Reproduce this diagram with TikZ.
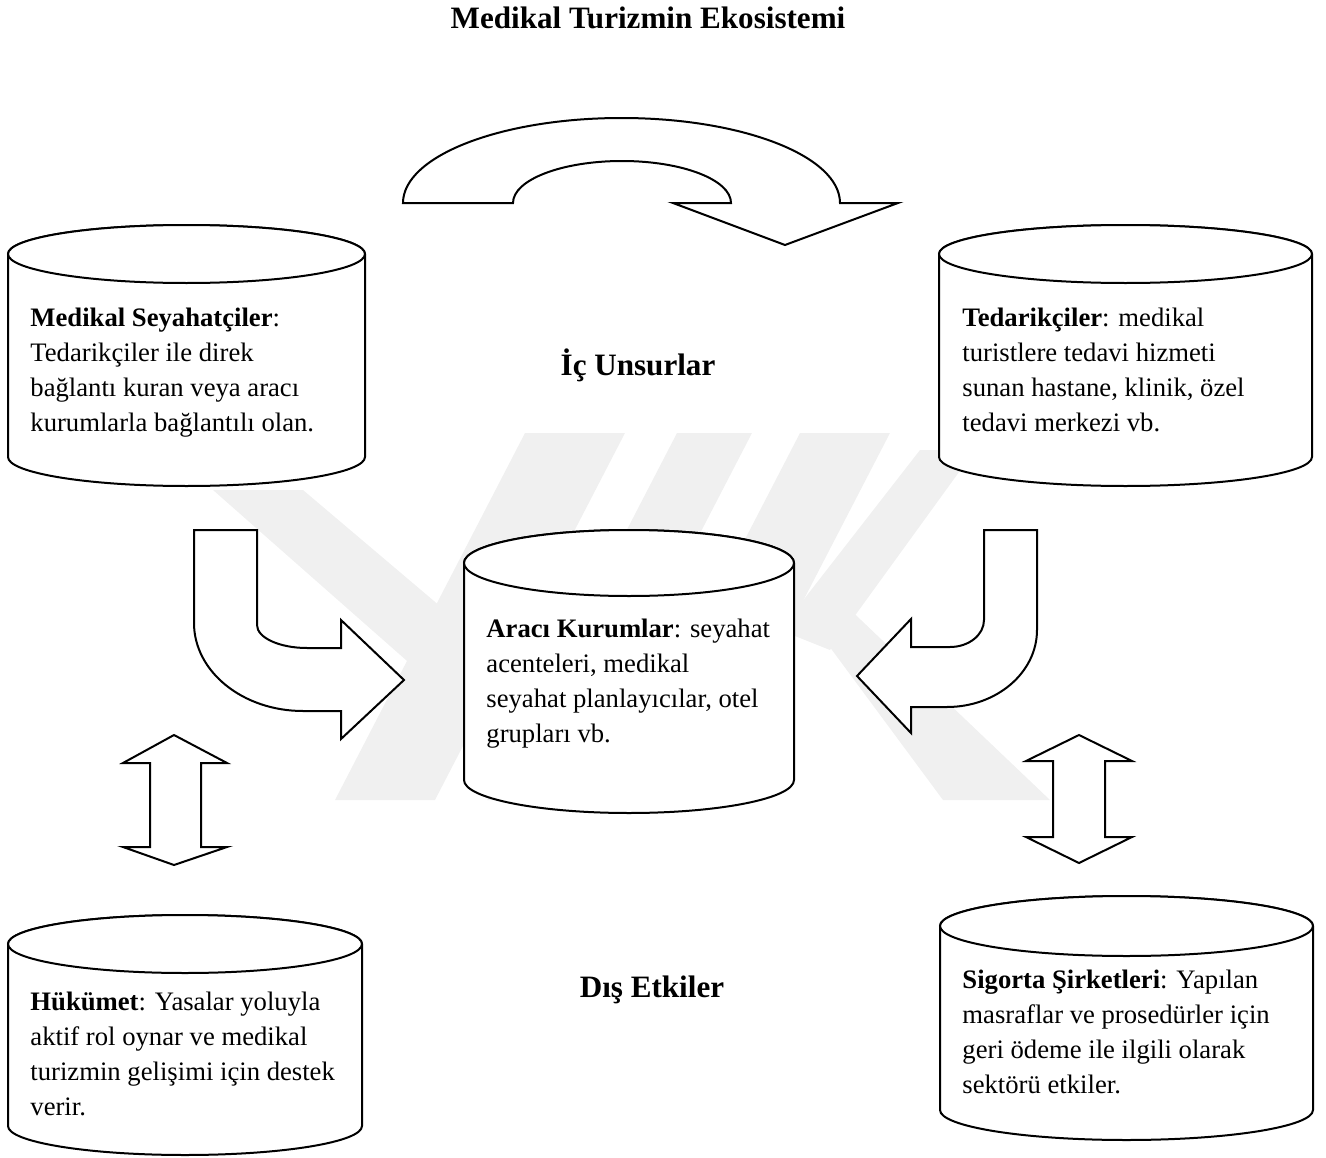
\documentclass[tikz,border=0pt]{standalone}
\usepackage{fontspec}
\setmainfont{Liberation Serif}
\begin{document}
\begin{tikzpicture}[x=0.45pt,y=0.45pt,
  shp/.style={draw=black,line width=0.9pt,fill=white,line join=miter},
  wm/.style={fill=black!6,draw=none},
  txt/.style={font=\fontsize{12}{15.75}\selectfont,align=left,inner sep=0pt},
  hdr/.style={font=\bfseries\fontsize{14}{16}\selectfont,inner sep=0pt}]
\useasboundingbox (0,0) rectangle (1326,-1158);
% watermark (faint)
\fill[wm] (525,-433) -- (625,-433) -- (435,-800) -- (335,-800) -- cycle;
\fill[wm] (213,-490) -- (303,-490) -- (480,-640) -- (440,-690) -- cycle;
\fill[wm] (677,-433) -- (752,-433) -- (562,-800) -- (487,-800) -- cycle;
\fill[wm] (800,-433) -- (890,-433) -- (700,-800) -- (610,-800) -- cycle;
\fill[wm] (920,-450) -- (975,-450) -- (830,-650) -- (780,-630) -- cycle;
\fill[wm] (795,-600) -- (840,-600) -- (1050,-800) -- (943,-800) -- cycle;
% cylinders
\newcommand{\cylshape}[5]{% x1 x2 yc yb ry (pixel, y down)
  \pgfmathsetmacro{\rxx}{(#2-#1)/2}
  \pgfmathsetmacro{\cxx}{(#2+#1)/2}
  \draw[shp] (#1,-#3) -- (#1,-#4) arc[start angle=180,end angle=360,x radius=\rxx,y radius=#5]
    -- (#2,-#3) arc[start angle=0,end angle=180,x radius=\rxx,y radius=#5] -- cycle;
  \draw[shp] (\cxx,-#3) ellipse[x radius=\rxx,y radius=#5];
}
\cylshape{8}{365}{254}{457}{29}
\cylshape{939}{1312}{254}{457}{29}
\cylshape{464}{794}{563}{780}{33}
\cylshape{8}{362}{944}{1126}{29}
\cylshape{940}{1313}{926}{1110}{30}
% top curved arrow
\draw[shp] (403,-203) arc[start angle=180,end angle=0,x radius=218.5,y radius=85]
  -- (898,-203) -- (785,-245) -- (673,-203) -- (731,-203)
  arc[start angle=0,end angle=180,x radius=109,y radius=42] -- cycle;
% left bent arrow
\draw[shp] (194,-530) -- (257,-530) -- (257,-625)
  arc[start angle=180,end angle=270,x radius=50,y radius=23]
  -- (341,-648) -- (341,-620) -- (404,-680) -- (341,-739) -- (341,-711) -- (303,-711)
  arc[start angle=270,end angle=180,x radius=109,y radius=88] -- cycle;
% right bent arrow
\draw[shp] (984,-530) -- (1037,-530) -- (1037,-630)
  arc[start angle=0,end angle=-90,x radius=90,y radius=77]
  -- (911,-707) -- (911,-733) -- (857,-676) -- (911,-619) -- (911,-647) -- (950,-647)
  arc[start angle=270,end angle=360,x radius=34,y radius=27] -- cycle;
% double arrows
\draw[shp] (174,-735) -- (227,-763) -- (201,-763) -- (201,-847) -- (227,-847) -- (174,-865)
  -- (123,-847) -- (150,-847) -- (150,-763) -- (123,-763) -- cycle;
\draw[shp] (1079,-735) -- (1132,-761) -- (1105,-761) -- (1105,-837) -- (1132,-837) -- (1079,-863)
  -- (1026,-837) -- (1053,-837) -- (1053,-761) -- (1026,-761) -- cycle;
% texts (base anchor = baseline of last line)
\node[hdr,anchor=base] (title) at (648,-29) {Medikal Turizmin Ekosistemi};
\node[hdr,anchor=base] (ic) at (638,-375) {İç Unsurlar};
\node[hdr,anchor=base] (dis) at (652,-997) {Dış Etkiler};
\node[txt,anchor=base west] (ms) at (30,-431) {\textbf{Medikal Seyahatçiler}:\\Tedarikçiler ile direk\\bağlantı kuran veya aracı\\kurumlarla bağlantılı olan.};
\node[txt,anchor=base west] (td) at (962,-431) {\textbf{Tedarikçiler}: medikal\\turistlere tedavi hizmeti\\sunan hastane, klinik, özel\\tedavi merkezi vb.};
\node[txt,anchor=base west] (ak) at (486,-742) {\textbf{Aracı Kurumlar}: seyahat\\acenteleri, medikal\\seyahat planlayıcılar, otel\\grupları vb.};
\node[txt,anchor=base west] (hk) at (30,-1115) {\textbf{Hükümet}: Yasalar yoluyla\\aktif rol oynar ve medikal\\turizmin gelişimi için destek\\verir.};
\node[txt,anchor=base west] (sg) at (962,-1093) {\textbf{Sigorta Şirketleri}: Yapılan\\masraflar ve prosedürler için\\geri ödeme ile ilgili olarak\\sektörü etkiler.};
\end{tikzpicture}
\end{document}
